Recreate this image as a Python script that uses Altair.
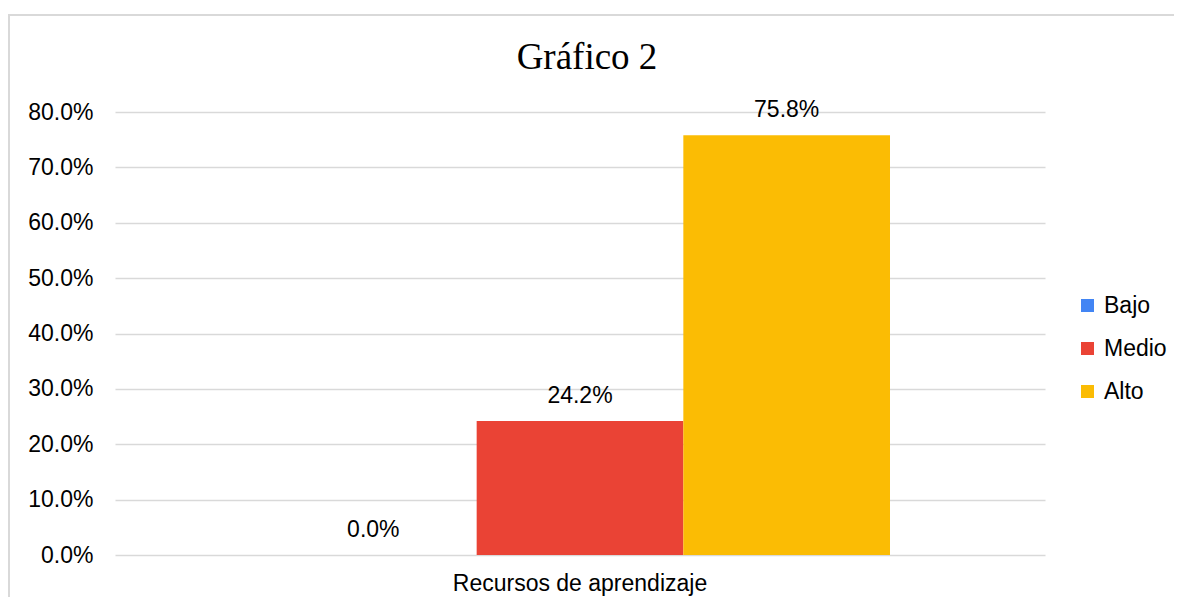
import altair as alt
import pandas as pd

categoria = ["Recursos de aprendizaje"] * 3
series = ["Bajo", "Medio", "Alto"]
valores = [0.0, 0.242, 0.758]
colores = ["#4285F4", "#EA4335", "#FBBC04"]
y_ticks = [0, 0.1, 0.2, 0.3, 0.4, 0.5, 0.6, 0.7, 0.8]
titulo = "Gráfico 2"

df = pd.DataFrame({"categoria": categoria, "serie": series, "valor": valores})

SANS = "Liberation Sans"
FS = 23

base = alt.Chart(df).encode(
    x=alt.X("categoria:N", title=None,
            scale=alt.Scale(paddingInner=0, paddingOuter=0.25),
            axis=alt.Axis(labelAngle=0, ticks=False, domain=False, labelFontSize=FS,
                          labelFont=SANS, labelColor="#000000", labelPadding=17,
                          labelLimit=0)),
    xOffset=alt.XOffset("serie:N", sort=series,
                        scale=alt.Scale(domain=series, paddingInner=0, paddingOuter=0)),
    y=alt.Y("valor:Q", title=None,
            scale=alt.Scale(domain=[0, 0.8], nice=False),
            axis=alt.Axis(values=y_ticks, format=".1%", ticks=False, domain=False,
                          labelFontSize=FS, labelFont=SANS, labelColor="#000000",
                          labelPadding=22, gridColor="#d9d9d9", gridWidth=1.5)),
)

bars = base.mark_bar().encode(
    color=alt.Color("serie:N", sort=series,
                    scale=alt.Scale(domain=series, range=colores),
                    legend=alt.Legend(title=None, orient="none", legendX=961, legendY=182,
                                      symbolType="square", symbolSize=170,
                                      symbolStrokeWidth=0, labelFontSize=FS,
                                      labelFont=SANS, labelColor="#000000",
                                      rowPadding=19, labelOffset=5))
)

labels = base.mark_text(baseline="middle", dy=-25, fontSize=FS, font=SANS,
                        color="#000000").encode(
    text=alt.Text("valor:Q", format=".1%")
)

frame = alt.Chart(pd.DataFrame({"a": [0]})).mark_rect(
    fill=None, stroke="#d9d9d9", strokeWidth=2
).encode(
    x=alt.value(-106), x2=alt.value(1200),
    y=alt.value(-97), y2=alt.value(700)
)

title = alt.Chart(pd.DataFrame({"t": [titulo]})).mark_text(
    font="Liberation Serif", fontSize=37, color="#000000", baseline="middle", align="center"
).encode(
    text="t:N", x=alt.value(472), y=alt.value(-54)
)

chart = alt.layer(frame, bars, labels, title).properties(
    width=930, height=443,
    autosize=alt.AutoSizeParams(type="none"),
    padding={"left": 107, "top": 104, "right": 129, "bottom": 42},
).configure_view(stroke=None).configure_axisX(grid=False)

chart.save("out.html", embed_options={"renderer": "svg", "actions": False})
